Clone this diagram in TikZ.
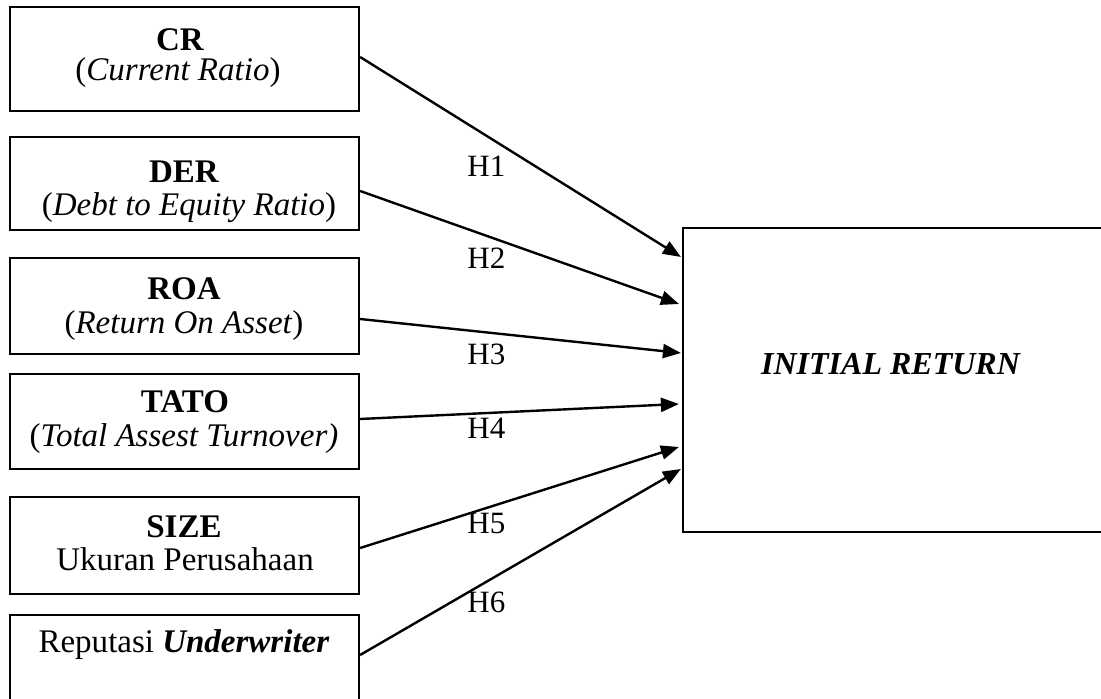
\documentclass[tikz,border=0pt]{standalone}
\usepackage{fontspec}
\setmainfont{Liberation Serif}
\usetikzlibrary{arrows.meta}
\begin{document}
\begin{tikzpicture}[x=0.5pt,y=-0.5pt,
  varbox/.style={draw,line width=1.1pt,rectangle,inner sep=0pt,minimum width=174.5pt},
  txt/.style={inner sep=0pt,anchor=base,font=\fontsize{16.5}{19}\selectfont},
  hlab/.style={inner sep=0pt,anchor=base west,font=\fontsize{15.5}{18}\selectfont},
  link/.style={line width=1.2pt,-{Triangle[length=9pt,width=7pt]}}]
\clip (0,0) rectangle (1101,699);
\useasboundingbox (0,0) rectangle (1101,699);
% left boxes
\node[varbox,minimum height=52pt] (cr) at (184.5,59) {};
\node[varbox,minimum height=46.5pt] (der) at (184.5,183.5) {};
\node[varbox,minimum height=48pt] (roa) at (184.5,306) {};
\node[varbox,minimum height=47.5pt] (tato) at (184.5,421.5) {};
\node[varbox,minimum height=48.5pt] (size) at (184.5,545.5) {};
\node[varbox,minimum height=52.5pt] (rep) at (184.5,667.5) {};
% target box
\node[draw,line width=1.1pt,rectangle,inner sep=0pt,minimum width=218.5pt,minimum height=152pt] (ir) at (901.5,380) {};
% texts
\node[txt] (cr1) at (180,51) {\textbf{CR}};
\node[txt] (cr2) at (178,81) {(\textit{Current Ratio})};
\node[txt] (der1) at (184,183) {\textbf{DER}};
\node[txt] (der2) at (189,216) {(\textit{Debt to Equity Ratio})};
\node[txt] (roa1) at (184,300) {\textbf{ROA}};
\node[txt] (roa2) at (184,334) {(\textit{Return On Asset})};
\node[txt] (tato1) at (185,413) {\textbf{TATO}};
\node[txt] (tato2) at (184,446) {(\textit{Total Assest Turnover)}};
\node[txt] (size1) at (184,537) {\textbf{SIZE}};
\node[txt] (size2) at (185,570) {Ukuran Perusahaan};
\node[txt] (rep1) at (184,652) {Reputasi \textbf{\textit{Underwriter}}};
\node[txt,font=\fontsize{16}{19}\selectfont] (irt) at (891,375) {\textbf{\textit{INITIAL RETURN}}};
% arrows
\draw[link] ([yshift=1pt]cr.east) -- ([xshift=-0.5pt,yshift=61.5pt]ir.west);
\draw[link] ([yshift=-3.75pt]der.east) -- ([xshift=-1.5pt,yshift=38pt]ir.west);
\draw[link] ([yshift=-6.5pt]roa.east) -- ([xshift=-0.5pt,yshift=13.5pt]ir.west);
\draw[link] ([yshift=1.25pt]tato.east) -- ([xshift=-1.5pt,yshift=-12pt]ir.west);
\draw[link] ([yshift=-1.25pt]size.east) -- ([xshift=-1.5pt,yshift=-33.5pt]ir.west);
\draw[link] ([yshift=6.25pt]rep.east) -- ([xshift=-0.5pt,yshift=-44.5pt]ir.west);
% labels
\node[hlab] (h1) at (467,177) {H1};
\node[hlab] (h2) at (467,269) {H2};
\node[hlab] (h3) at (467,365) {H3};
\node[hlab] (h4) at (467,438) {H4};
\node[hlab] (h5) at (467,533) {H5};
\node[hlab] (h6) at (467,612) {H6};
\end{tikzpicture}
\end{document}
